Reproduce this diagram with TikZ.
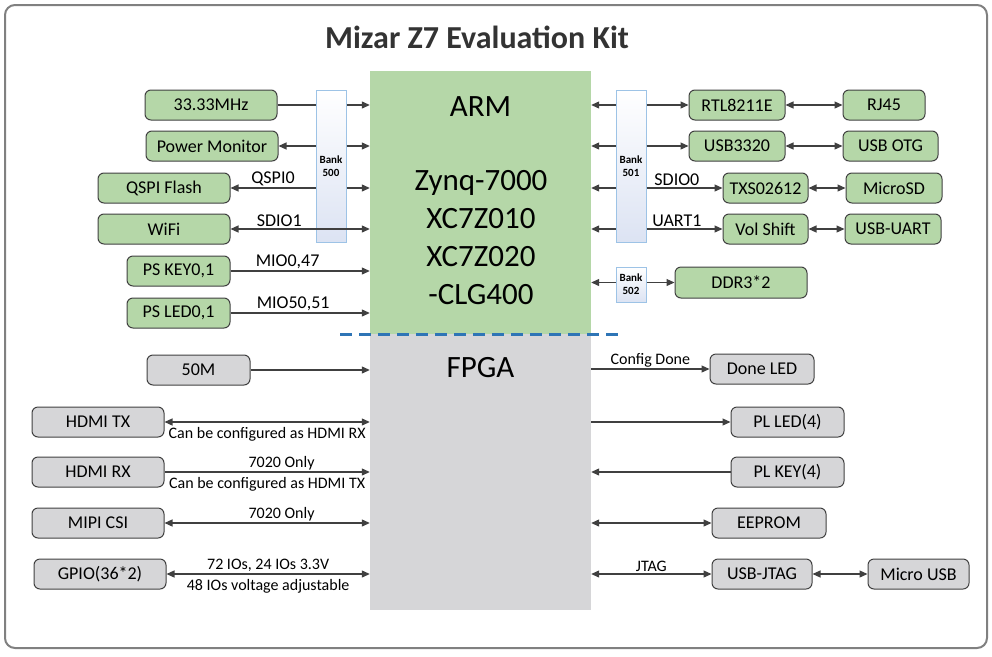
\documentclass[tikz,border=0pt]{standalone}
\usepackage{fontspec}
\setmainfont{Carlito}
\usetikzlibrary{arrows.meta,calc}
\definecolor{kitgreen}{HTML}{B5D7A8}
\definecolor{kitgray}{HTML}{D6D6D8}
\definecolor{kitline}{HTML}{404040}
\definecolor{bankline}{HTML}{9DC3E6}
\definecolor{bankfill}{HTML}{DCE3F3}
\definecolor{dashblue}{HTML}{2E75B6}

\begin{document}
\begin{tikzpicture}[x=1pt,y=-1pt]
	\tikzstyle{box}=[rectangle, rounded corners=6pt, draw=kitline, line width=1pt, minimum height=30pt, inner sep=0pt, font=\fontsize{18}{20}\selectfont]
	\tikzstyle{gbox}=[box, fill=kitgreen]
	\tikzstyle{ybox}=[box, fill=kitgray]
	\tikzstyle{bank}=[rectangle, draw=bankline, line width=1pt, top color=white, bottom color=bankfill, minimum width=30pt, inner sep=0pt, align=center, font=\fontsize{11}{13}\bfseries\selectfont]
	\tikzstyle{chip}=[rectangle, minimum width=221pt, inner sep=0pt]
	\tikzstyle{lbl}=[inner sep=1.5pt, font=\fontsize{18}{20}\selectfont]
	\tikzstyle{slbl}=[inner sep=1.5pt, font=\fontsize{16}{18}\selectfont]
	\tikzstyle{wire}=[draw=kitline, line width=1.2pt]
	\tikzstyle{owire}=[wire, -{Triangle[length=8pt,width=7pt]}]
	\tikzstyle{bwire}=[wire, {Triangle[length=8pt,width=7pt]}-{Triangle[length=8pt,width=7pt]}]
	\useasboundingbox (0,0) rectangle (992,656);
	\draw[rounded corners=10pt, draw=black!50, line width=2pt] (5,5) rectangle (987,648);
	\node[font=\fontsize{32}{36}\bfseries\selectfont, text=black!80] (title) at (477,37) {Mizar Z7 Evaluation Kit};

	% the chip
	\node[chip, fill=kitgreen, minimum height=263pt] (arm) at (480.5,202.5) {};
	\node[chip, fill=kitgray, minimum height=276pt] (fpga) at (480.5,472) {};
	\draw[dashblue, line width=3pt, dash pattern=on 12pt off 7pt] (340,334) -- (620,334);
	\node[font=\fontsize{31}{38}\selectfont] (armlbl) at (480.5,107) {ARM};
	\node[font=\fontsize{31}{38}\selectfont, align=center] (soc) at (481,238) {Zynq-7000\\XC7Z010\\XC7Z020\\-CLG400};
	\node[font=\fontsize{31}{38}\selectfont] (fpgalbl) at (480.5,368) {FPGA};

	% banks
	\node[bank, minimum height=152pt] (b500) at (331,166) {Bank\\500};
	\node[bank, minimum height=152pt] (b501) at (631,166) {Bank\\501};
	\node[bank, minimum height=35pt] (b502) at (631,284.5) {Bank\\502};

	% PS side
	\node[gbox, minimum width=132pt] (mhz) at (211,105) {33.33MHz};
	\node[gbox, minimum width=132pt] (pmon) at (212,146) {Power Monitor};
	\node[gbox, minimum width=132pt] (qspi) at (164,188) {QSPI Flash};
	\node[gbox, minimum width=132pt] (wifi) at (164,229) {WiFi};
	\node[gbox, minimum width=103pt] (pskey) at (178.5,271) {PS KEY0,1};
	\node[gbox, minimum width=103pt] (psled) at (178.5,313) {PS LED0,1};
	\node[gbox, minimum width=96pt] (rtl) at (737,105) {RTL8211E};
	\node[gbox, minimum width=82pt] (rj45) at (884,105) {RJ45};
	\node[gbox, minimum width=96pt] (usbphy) at (737,146) {USB3320};
	\node[gbox, minimum width=95pt] (otg) at (890.5,146) {USB OTG};
	\node[gbox, minimum width=85pt] (txs) at (765.5,188) {TXS02612};
	\node[gbox, minimum width=96pt] (msd) at (894,188) {MicroSD};
	\node[gbox, minimum width=85pt] (vols) at (765.5,229) {Vol Shift};
	\node[gbox, minimum width=96pt] (uart) at (893,229) {USB-UART};
	\node[gbox, minimum width=132pt, minimum height=31pt] (ddr) at (741,282.5) {DDR3*2};

	% PL side
	\node[ybox, minimum width=103pt] (clk) at (198.5,370) {50M};
	\node[ybox, minimum width=132pt] (htx) at (98,422) {HDMI TX};
	\node[ybox, minimum width=132pt] (hrx) at (98,472) {HDMI RX};
	\node[ybox, minimum width=132pt] (mipi) at (98,523) {MIPI CSI};
	\node[ybox, minimum width=132pt] (gpio) at (100,574) {GPIO(36*2)};
	\node[ybox, minimum width=104pt] (dled) at (762,369) {Done LED};
	\node[ybox, minimum width=113pt] (plled) at (787.5,422) {PL LED(4)};
	\node[ybox, minimum width=113pt] (plkey) at (787.5,472) {PL KEY(4)};
	\node[ybox, minimum width=114pt] (eep) at (769,523) {EEPROM};
	\node[ybox, minimum width=100pt] (ujtag) at (762,574) {USB-JTAG};
	\node[ybox, minimum width=101pt] (musb) at (918.5,574) {Micro USB};

	% PS connections
	\draw[wire] (mhz.east) -- (mhz.east -| b500.west);
	\draw[owire] (mhz.east -| b500.east) -- (mhz.east -| arm.west);
	\draw[owire] (pmon.east -| b500.west) -- (pmon.east);
	\draw[owire] (pmon.east -| b500.east) -- (pmon.east -| arm.west);
	\draw[owire] (qspi.east -| b500.west) -- node[lbl, above] {QSPI0} (qspi.east);
	\draw[owire] (qspi.east -| b500.east) -- (qspi.east -| arm.west);
	\draw[bwire] (wifi.east) -- node[lbl, above, pos=0.35] {SDIO1} (wifi.east -| arm.west);
	\draw[owire] (pskey.east) -- node[lbl, above, pos=0.41] {MIO0,47} (pskey.east -| arm.west);
	\draw[owire] (psled.east) -- node[lbl, above, pos=0.45] {MIO50,51} (psled.east -| arm.west);
	\draw[owire] (rtl.west -| b501.west) -- (rtl.west -| arm.east);
	\draw[owire] (rtl.west -| b501.east) -- (rtl.west);
	\draw[bwire] (rtl) -- (rj45);
	\draw[owire] (usbphy.west -| b501.west) -- (usbphy.west -| arm.east);
	\draw[owire] (usbphy.west -| b501.east) -- (usbphy.west);
	\draw[bwire] (usbphy) -- (otg);
	\draw[owire] (txs.west -| b501.west) -- (txs.west -| arm.east);
	\draw[owire] (txs.west -| b501.east) -- node[lbl, above, pos=0.4] {SDIO0} (txs.west);
	\draw[bwire] (txs) -- (msd);
	\draw[owire] (vols.west -| b501.west) -- (vols.west -| arm.east);
	\draw[owire] (vols.west -| b501.east) -- node[lbl, above, pos=0.4] {UART1} (vols.west);
	\draw[bwire] (vols) -- (uart);
	\draw[owire] (ddr.west -| b502.west) -- (ddr.west -| arm.east);
	\draw[owire] (ddr.west -| b502.east) -- (ddr.west);

	% PL connections
	\draw[owire] (clk) -- (clk -| fpga.west);
	\draw[bwire] (htx) -- node[slbl, below=3pt] {Can be configured as HDMI RX} (htx -| fpga.west);
	\draw[owire] (hrx) -- node[slbl, above, pos=0.57] {7020 Only} node[slbl, below=3pt] {Can be configured as HDMI TX} (hrx -| fpga.west);
	\draw[bwire] (mipi) -- node[slbl, above, pos=0.57] {7020 Only} (mipi -| fpga.west);
	\draw[bwire] (gpio) -- node[slbl, above] {72 IOs, 24 IOs 3.3V} node[slbl, below=3pt] {48 IOs voltage adjustable} (gpio -| fpga.west);
	\draw[owire] (dled -| fpga.east) -- node[slbl, above] {Config Done} (dled);
	\draw[owire] (plled -| fpga.east) -- (plled);
	\draw[owire] (plkey) -- (plkey -| fpga.east);
	\draw[bwire] (eep -| fpga.east) -- (eep);
	\draw[bwire] (ujtag -| fpga.east) -- node[slbl, above] {JTAG} (ujtag);
	\draw[bwire] (ujtag) -- (musb);
\end{tikzpicture}
\end{document}
